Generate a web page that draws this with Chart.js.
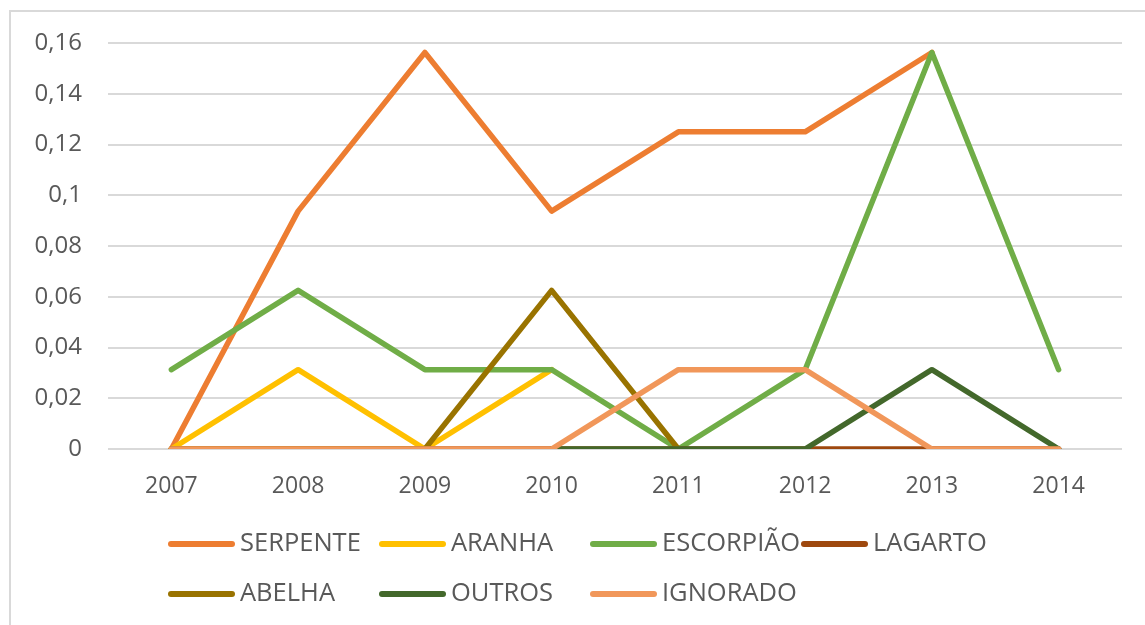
<!DOCTYPE html>
<html lang="pt">
<head>
<meta charset="utf-8">
<title>Acidentes por animais peçonhentos 2007–2014</title>
<script src="https://cdn.jsdelivr.net/npm/chart.js@4.4.1/dist/chart.umd.min.js"></script>
<style>
  html, body { margin: 0; padding: 0; background: #ffffff; }
  #wrap { width: 1145px; height: 625px; position: relative; }
  canvas { display: block; }
</style>
</head>
<body>
<div id="wrap"><canvas id="chart" width="1145" height="625"></canvas></div>
<script>
// Anos
const years = ['2007', '2008', '2009', '2010', '2011', '2012', '2013', '2014'];

// Séries (null = sem registro no ano)
const serpente  = [0, 0.09375, 0.15625, 0.09375, 0.125, 0.125, 0.15625, null];
const aranha    = [0, 0.03125, 0, 0.03125, null, null, null, null];
const escorpiao = [0.03125, 0.0625, 0.03125, 0.03125, 0, 0.03125, 0.15625, 0.03125];
const lagarto   = [0, 0, 0, 0, 0, 0, 0, 0];
const abelha    = [0, 0, 0, 0.0625, 0, null, null, null];
const outros    = [null, null, null, 0, 0, 0, 0.03125, 0];
const ignorado  = [0, 0, 0, 0, 0.03125, 0.03125, 0, 0];

// Eixo Y
const yTicks = [0, 0.02, 0.04, 0.06, 0.08, 0.1, 0.12, 0.14, 0.16];

const seriesNames  = ['SERPENTE', 'ARANHA', 'ESCORPIÃO', 'LAGARTO', 'ABELHA', 'OUTROS', 'IGNORADO'];
const seriesData   = [serpente, aranha, escorpiao, lagarto, abelha, outros, ignorado];
const seriesColors = ['#ED7D31', '#FFC000', '#70AD47', '#9E480E', '#997300', '#43682B', '#F1975A'];

const FONT = '"Open Sans", "Noto Sans", sans-serif';
const TEXT_COLOR = '#595959';
const GRID_COLOR = '#D9D9D9';

// later series are painted over earlier ones
const datasets = seriesNames.map((name, i) => ({
  label: name,
  data: seriesData[i],
  borderColor: seriesColors[i],
  backgroundColor: seriesColors[i],
  borderWidth: 5.5,
  borderCapStyle: 'round',
  borderJoinStyle: 'round',
  pointRadius: 0,
  pointHoverRadius: 0,
  tension: 0,
  spanGaps: false,
  fill: false,
  order: seriesNames.length - i
}));

// white background and outer frame
const framePlugin = {
  id: 'frame',
  beforeDraw(chart) {
    const ctx = chart.ctx;
    ctx.save();
    ctx.fillStyle = '#ffffff';
    ctx.fillRect(0, 0, chart.width, chart.height);
    ctx.strokeStyle = GRID_COLOR;
    ctx.lineWidth = 2;
    ctx.strokeRect(10, 11, chart.width + 20, chart.height + 20);
    ctx.restore();
  }
};

// legend laid out in equal-width columns, two rows
const gridLegend = {
  id: 'gridLegend',
  afterDraw(chart) {
    const ctx = chart.ctx;
    const ds = chart.data.datasets;
    const cols = 4;
    const sampleLen = 67;
    const textGap = 5;
    const colW = 211;
    const x0 = 168;
    const rowsY = [544, 594];
    ctx.save();
    ctx.font = '25.5px ' + FONT;
    ds.forEach((d, i) => {
      const c = i % cols, r = Math.floor(i / cols);
      const x = x0 + c * colW;
      const y = rowsY[r];
      ctx.strokeStyle = d.borderColor;
      ctx.lineWidth = 6;
      ctx.lineCap = 'round';
      ctx.beginPath();
      ctx.moveTo(x + 3, y);
      ctx.lineTo(x + sampleLen - 3, y);
      ctx.stroke();
      ctx.fillStyle = TEXT_COLOR;
      ctx.textBaseline = 'middle';
      ctx.textAlign = 'left';
      ctx.fillText(d.label, x + sampleLen + textGap, y);
    });
    ctx.restore();
  }
};

new Chart(document.getElementById('chart'), {
  type: 'line',
  data: { labels: years, datasets },
  options: {
    responsive: false,
    animation: false,
    devicePixelRatio: 1,
    layout: { padding: { top: 43, right: 23, left: 0, bottom: 0 } },
    plugins: {
      legend: { display: false },
      tooltip: { enabled: false }
    },
    scales: {
      x: {
        type: 'category',
        offset: true,
        grid: { display: false, drawTicks: false },
        border: { display: false },
        ticks: {
          color: TEXT_COLOR,
          font: { family: FONT, size: 23 },
          padding: 24,
          maxRotation: 0,
          autoSkip: false
        },
        afterFit(scale) { scale.height = 625 - 449; }
      },
      y: {
        min: 0,
        max: 0.16,
        afterBuildTicks(scale) { scale.ticks = yTicks.map(v => ({ value: v })); },
        grid: { color: GRID_COLOR, lineWidth: 2, drawTicks: false },
        border: { display: false },
        ticks: {
          color: TEXT_COLOR,
          font: { family: FONT, size: 24 },
          padding: 26,
          callback(v) { return String(Number(v.toFixed(2))).replace('.', ','); }
        },
        afterFit(scale) { scale.width = 108; }
      }
    }
  },
  plugins: [framePlugin, gridLegend]
});
</script>
</body>
</html>
